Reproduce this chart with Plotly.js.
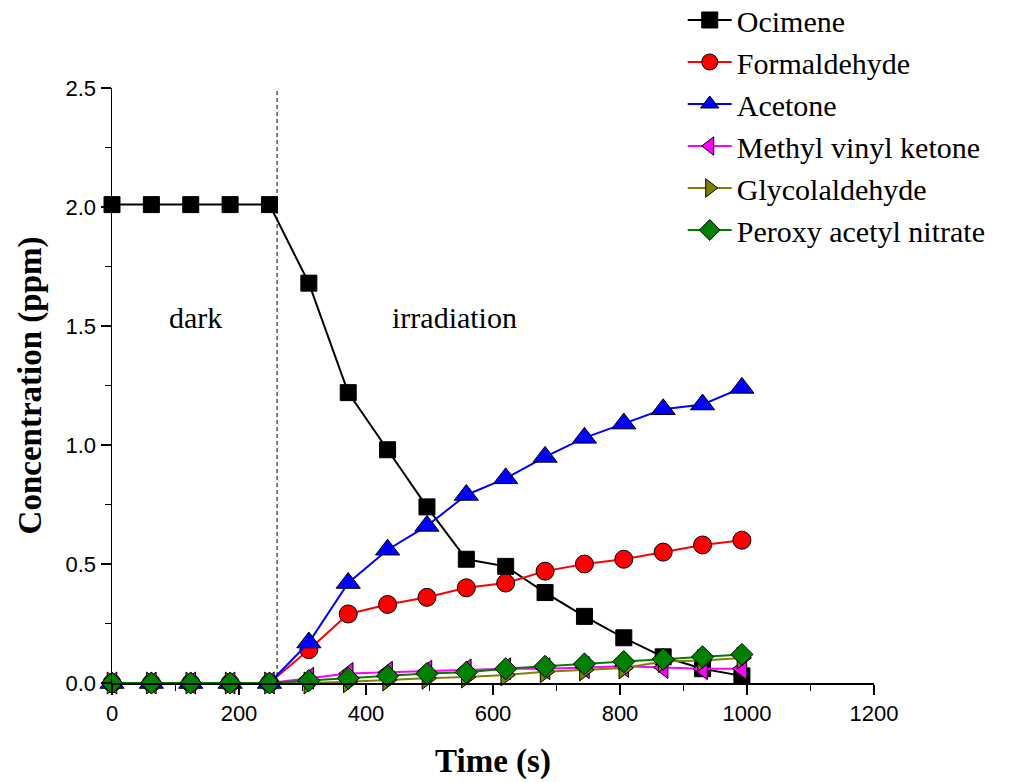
<!DOCTYPE html>
<html>
<head>
<meta charset="utf-8">
<script src="https://cdn.plot.ly/plotly-3.0.1.min.js"></script>
<style>html,body{margin:0;padding:0;background:#fff;}#chart{width:1015px;height:782px;}</style>
</head>
<body>
<div id="chart"></div>
<script>
const time = [0,62,124,186,248,310,372,434,496,558,620,682,744,806,868,930,992];
const ocimene = [2.01,2.01,2.01,2.01,2.01,1.68,1.22,0.98,0.74,0.52,0.49,0.38,0.28,0.19,0.11,0.06,0.03];
const formaldehyde = [0,0,0,0,0,0.14,0.29,0.33,0.36,0.40,0.42,0.47,0.50,0.52,0.55,0.58,0.60];
const acetone = [0,0,0,0,0,0.17,0.42,0.56,0.66,0.79,0.86,0.95,1.03,1.09,1.15,1.17,1.24];
const mvk = [0,0,0,0,0,0.02,0.04,0.045,0.05,0.055,0.06,0.06,0.065,0.07,0.065,0.06,0.06];
const glycolaldehyde = [0,0,0,0,0,0.0,0.005,0.013,0.02,0.025,0.034,0.047,0.055,0.063,0.09,0.095,0.105];
const pan = [0,0,0,0,0,0.01,0.02,0.03,0.04,0.045,0.06,0.07,0.08,0.09,0.10,0.11,0.12];
const seriesNames = ["Ocimene","Formaldehyde","Acetone","Methyl vinyl ketone","Glycolaldehyde","Peroxy acetyl nitrate"];
const darkEnd = 260;

const specs = [
  {y: ocimene, color: "#000000", symbol: "square", size: 16},
  {y: formaldehyde, color: "#ff0000", symbol: "circle", size: 18},
  {y: acetone, color: "#0000ff", symbol: "triangle-up", size: 21},
  {y: mvk, color: "#ff00ff", symbol: "triangle-left", size: 19},
  {y: glycolaldehyde, color: "#808000", symbol: "triangle-right", size: 19},
  {y: pan, color: "#008000", symbol: "diamond", size: 17}
];

const traces = specs.map((s, i) => ({
  x: time, y: s.y, name: seriesNames[i], type: "scatter", mode: "lines+markers",
  cliponaxis: false,
  line: {color: s.color, width: 2},
  marker: {symbol: s.symbol, size: s.size, color: s.color, line: {color: "#000", width: 1}}
}));

const serif = "Liberation Serif, Times New Roman, serif";
const sans = "Liberation Sans, Arial, sans-serif";

const axisCommon = {
  showline: true, linecolor: "#000", linewidth: 1.5, ticks: "outside", ticklen: 10, tickwidth: 1.5,
  tickcolor: "#000", showgrid: false, zeroline: false, mirror: false
};

const layout = {
  width: 1015, height: 782,
  margin: {l: 112, r: 141, t: 88, b: 99, autoexpand: false},
  paper_bgcolor: "#fff", plot_bgcolor: "#fff",
  showlegend: true,
  legend: {
    x: 0.749, y: 1.158, xanchor: "left", yanchor: "top",
    font: {family: serif, size: 30, color: "#000"},
    bgcolor: "rgba(0,0,0,0)", tracegroupgap: 0, itemwidth: 44
  },
  xaxis: Object.assign({}, axisCommon, {
    range: [0, 1200], tickvals: [0,200,400,600,800,1000,1200],
    tickfont: {family: sans, size: 22, color: "#000"},
    minor: {dtick: 100, tick0: 0, ticks: "outside", ticklen: 6, tickcolor: "#000", tickwidth: 1.5},
    title: {text: "Time (s)", standoff: 24, font: {family: serif, size: 33, color: "#000", weight: "bold"}}
  }),
  yaxis: Object.assign({}, axisCommon, {
    range: [0, 2.5], tickvals: [0,0.5,1.0,1.5,2.0,2.5], tickformat: ".1f",
    tickfont: {family: sans, size: 22, color: "#000"},
    minor: {dtick: 0.25, tick0: 0, ticks: "outside", ticklen: 6, tickcolor: "#000", tickwidth: 1.5},
    title: {text: "Concentration (ppm)", standoff: 14, font: {family: serif, size: 33, color: "#000", weight: "bold"}}
  }),
  shapes: [{type: "line", xref: "x", yref: "y", x0: darkEnd, x1: darkEnd, y0: 0, y1: 2.5,
    line: {color: "#000", width: 1, dash: "4px,3px"}}],
  annotations: [
    {x: 132, y: 1.534, xref: "x", yref: "y", text: "dark", showarrow: false,
      font: {family: serif, size: 30, color: "#000"}},
    {x: 540, y: 1.534, xref: "x", yref: "y", text: "irradiation", showarrow: false,
      font: {family: serif, size: 30, color: "#000"}}
  ]
};

Plotly.newPlot("chart", traces, layout, {displayModeBar: false, staticPlot: true});
</script>
</body>
</html>
